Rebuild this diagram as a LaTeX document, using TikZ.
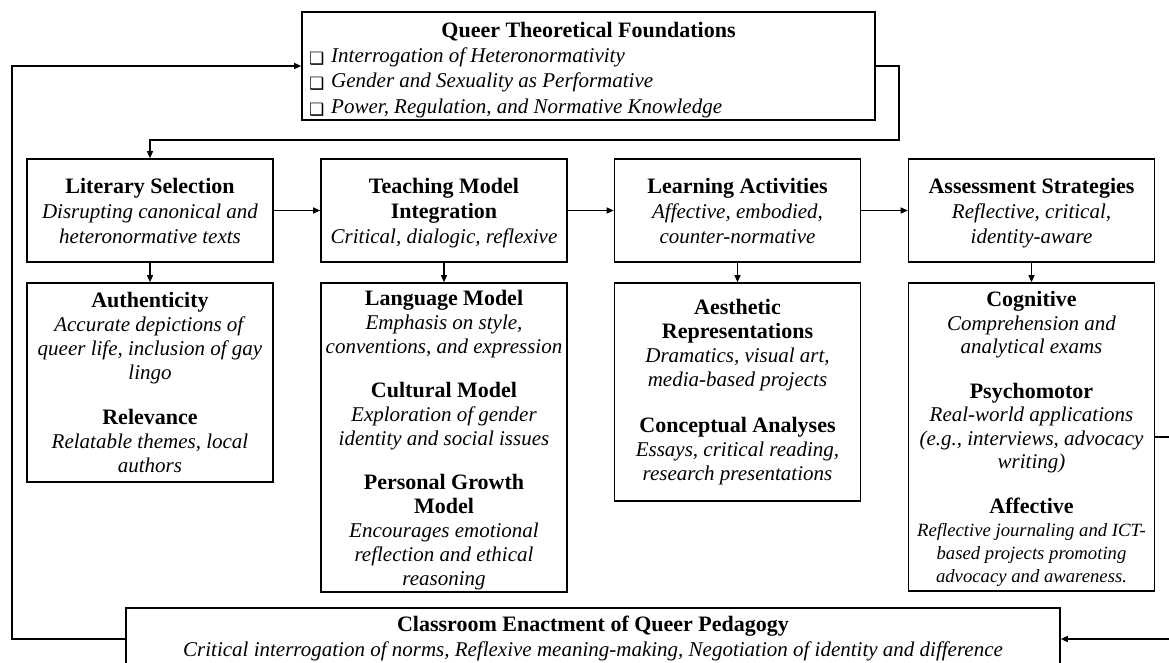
\documentclass[tikz,border=0pt]{standalone}
\usepackage{fontspec}
\setmainfont{Liberation Serif}
\newfontfamily\symfont{DejaVu Sans}
\usetikzlibrary{arrows.meta}

\newcommand{\chk}{\hspace*{3pt}\raisebox{-2pt}{\symfont\fontsize{17}{17}\selectfont ❑}\hspace{7pt}}
\newcommand{\hd}[1]{{\fontsize{22}{24}\selectfont\bfseries #1}}
\newcommand{\sm}[1]{{\fontsize{18.7}{22}\selectfont\itshape #1}}

\begin{document}
\begin{tikzpicture}[x=1pt,y=-1pt,
    box/.style={draw=black, line width=1.6pt, align=center, inner sep=0pt,
        font=\fontsize{21}{24}\selectfont},
    step box/.style={box, minimum width=246pt, minimum height=103pt,
        font=\fontsize{21}{25}\selectfont},
    flow/.style={line width=1.2pt, -{Triangle[length=7pt,width=6pt]}}]
    \useasboundingbox (0,0) rectangle (1169,662);
    \clip (0,0) rectangle (1169,662);

    % theory box on top
    \node[box, minimum height=108pt, inner xsep=4pt, text width=565pt, align=flush left,
          font=\fontsize{21}{25.3}\selectfont] (QTF) at (588.5,66)
        {\centering\rule{0pt}{23pt}\hd{Queer Theoretical Foundations}\par
         \raggedright
         \chk\textit{Interrogation of Heteronormativity}\par
         \chk\textit{Gender and Sexuality as Performative}\par
         \chk\textit{Power, Regulation, and Normative Knowledge}\par};

    % main row
    \node[step box] (LS) at (150,210.5)
        {\hd{Literary Selection}\\ \textit{Disrupting canonical and}\\ \textit{heteronormative texts}};
    \node[step box] (TMI) at (444,210.5)
        {\rule{0pt}{21pt}\hd{Teaching Model}\\ \hd{Integration}\\ \textit{Critical, dialogic, reflexive}};
    \node[step box] (LA) at (737.5,210.5)
        {\hd{Learning Activities}\\ \textit{Affective, embodied,}\\ \textit{counter-normative}};
    \node[step box] (AS) at (1031.5,210.5)
        {\rule{0pt}{20pt}\hd{Assessment Strategies}\\ \textit{Reflective, critical,}\\ \textit{identity-aware}};

    % details under each step
    \node[box, minimum width=246pt, minimum height=199pt] (AU) at (150,382.5)
        {\hd{Authenticity}\\ \textit{Accurate depictions of}\\ \textit{queer life, inclusion of gay}\\ \textit{lingo}\\[21pt]
         \hd{Relevance}\\ \textit{Relatable themes, local}\\ \textit{authors}};
    \node[box, minimum width=246pt, minimum height=309pt] (MO) at (444,437.5)
        {\rule{0pt}{20pt}\hd{Language Model}\\ \textit{Emphasis on style,}\\ \textit{conventions, and expression}\\[20pt]
         \hd{Cultural Model}\\ \textit{Exploration of gender}\\ \textit{identity and social issues}\\[20pt]
         \hd{Personal Growth}\\ \hd{Model}\\ \textit{Encourages emotional}\\ \textit{reflection and ethical}\\ \textit{reasoning}};
    \node[box, minimum width=246pt, minimum height=218pt] (AR) at (737.5,392)
        {\hd{Aesthetic}\\ \hd{Representations}\\ \textit{Dramatics, visual art,}\\ \textit{media-based projects}\\[22pt]
         \hd{Conceptual Analyses}\\ \textit{Essays, critical reading,}\\ \textit{research presentations}};
    \node[box, minimum width=246pt, minimum height=308pt, font=\fontsize{21}{23.5}\selectfont] (CO) at (1031.5,437)
        {\rule{0pt}{20pt}\hd{Cognitive}\\ \textit{Comprehension and}\\ \textit{analytical exams}\\[21pt]
         \hd{Psychomotor}\\ \textit{Real-world applications}\\ \textit{(e.g., interviews, advocacy}\\ \textit{writing)}\\[21pt]
         \hd{Affective}\\
         \sm{Reflective journaling and ICT-}\\[-0.5pt]
         \sm{based projects promoting}\\[-0.5pt]
         \sm{advocacy and awareness.}};

    % enactment box at the bottom
    \node[box, minimum width=934pt, minimum height=62pt] (CEQ) at (593,639)
        {\hd{Classroom Enactment of Queer Pedagogy}\\[1pt]
         \textit{Critical interrogation of norms, Reflexive meaning-making, Negotiation of identity and difference}};

    \coordinate (L) at (12,0);
    \coordinate (R) at (899,140);
    \coordinate (E) at (1172,0);

    \draw[flow] (LS) -- (TMI);
    \draw[flow] (TMI) -- (LA);
    \draw[flow] (LA) -- (AS);

    \draw[flow] (LS) -- (AU);
    \draw[flow] (TMI) -- (MO);
    \draw[flow] (LA) -- (AR);
    \draw[flow] (AS) -- (CO);

    \draw[flow] (QTF.east) -| (R) -| (LS.north);
    \draw[flow] (CEQ.west) -- (CEQ.west -| L) |- (QTF.west);
    \draw[flow] (CO.east) -- (CO.east -| E) |- (CEQ.east);
\end{tikzpicture}
\end{document}
